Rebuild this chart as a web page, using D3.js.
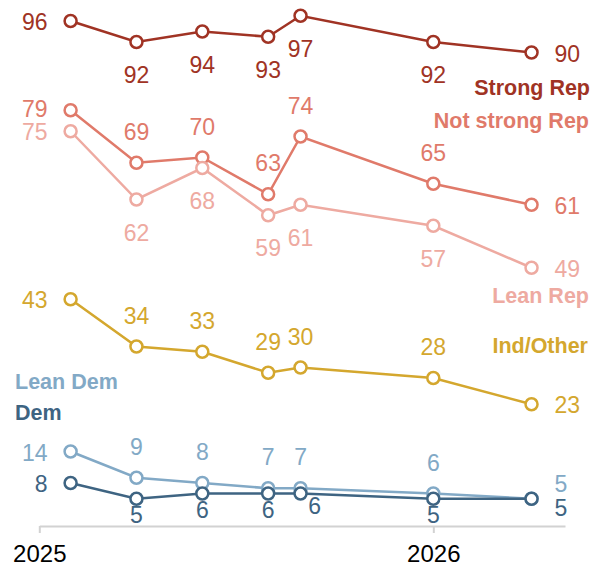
<html>
<head>
  <script src="https://d3js.org/d3.v7.min.js"></script>
  <style>
    body { margin: 0; background: #fff; }
    .num { font-family: "Liberation Sans", Arial, sans-serif; font-size: 23px; }
    .key { font-family: "Liberation Sans", Arial, sans-serif; font-size: 21.5px; font-weight: bold; }
    .x-axis text { font-family: "Liberation Sans", Arial, sans-serif; font-size: 24px; fill: #000; }
  </style>
</head>
<body>
  <div id="chart"></div>
  <script>
    // survey dates (approx. field midpoints)
    var dates = ['2025-01-30', '2025-04-01', '2025-06-01', '2025-08-01', '2025-08-31', '2026-01-01', '2026-04-02'];
    var yearTicks = ['2025-01-01', '2026-01-01'];

    var strongRep = [96, 92, 94, 93, 97, 92, 90];
    var notStrongRep = [79, 69, 70, 63, 74, 65, 61];
    var leanRep = [75, 62, 68, 59, 61, 57, 49];
    var indOther = [43, 34, 33, 29, 30, 28, 23];
    var leanDem = [14, 9, 8, 7, 7, 6, 5];
    var dem = [8, 5, 6, 6, 6, 5, 5];

    var parse = d3.timeParse('%Y-%m-%d');

    var width = 592, height = 569;

    var svg = d3.select('#chart').append('svg')
                .attr('width', width)
                .attr('height', height);

    var x = d3.scaleTime()
              .domain([parse('2025-01-01'), parse('2026-05-03')])
              .range([39.3, 565]);
    var y = d3.scaleLinear().domain([0, 100]).range([525, 0]);

    // label placement per point: L left, R right, A above, B below
    var series = [
      {name: 'Strong Rep', values: strongRep, color: '#a03324',
       pos: ['L', 'B', 'B', 'B', 'B', 'B', 'R'], key: {x: 590, y: 95, anchor: 'end'}},
      {name: 'Not strong Rep', values: notStrongRep, color: '#e07a6a',
       pos: ['LU', 'A', 'A', 'A', 'A', 'A', 'R'], key: {x: 589, y: 128, anchor: 'end'}},
      {name: 'Lean Rep', values: leanRep, color: '#eeaaa1',
       pos: ['L', 'B', 'B', 'B', 'B', 'B', 'R'], key: {x: 589, y: 303, anchor: 'end'}},
      {name: 'Ind/Other', values: indOther, color: '#d4a72e',
       pos: ['L', 'A', 'A', 'A', 'A', 'A', 'R'], key: {x: 588, y: 353, anchor: 'end'}},
      {name: 'Lean Dem', values: leanDem, color: '#82a9c6',
       pos: ['L', 'A', 'A', 'A', 'A', 'A', 'RU'], key: {x: 15, y: 389, anchor: 'start'}},
      {name: 'Dem', values: dem, color: '#3e6482',
       pos: ['L', 'BD', 'BD', 'BD', 'BR', 'BD', 'RD'], key: {x: 15, y: 420, anchor: 'start'}}
    ];

    // axis
    var x_axis = d3.axisBottom(x)
                   .tickValues(yearTicks.map(parse))
                   .tickFormat(d3.timeFormat('%Y'))
                   .tickSizeInner(7)
                   .tickSizeOuter(0)
                   .tickPadding(12);

    var gx = svg.append('g')
                .attr('class', 'x-axis')
                .attr('transform', 'translate(0,526)')
                .call(x_axis);
    gx.select('.domain').attr('stroke', '#d2d2d2').attr('stroke-width', 2);
    gx.selectAll('.tick line').attr('stroke', '#d2d2d2').attr('stroke-width', 2);

    var line_function = d3.line()
                          .x(function(d) { return x(d.date); })
                          .y(function(d) { return y(d.value); });

    var offsets = {
      L:  {dx: -23, dy: 9, anchor: 'end'},
      LU: {dx: -23, dy: 7, anchor: 'end'},
      R:  {dx: 23, dy: 9, anchor: 'start'},
      RU: {dx: 23, dy: -7, anchor: 'start'},
      RD: {dx: 23, dy: 17, anchor: 'start'},
      A:  {dx: 0, dy: -23, anchor: 'middle'},
      B:  {dx: 0, dy: 41, anchor: 'middle'},
      BD: {dx: 0, dy: 24, anchor: 'middle'},
      BR: {dx: 14, dy: 20, anchor: 'middle'}
    };

    series.forEach(function(s) {
      var pts = s.values.map(function(v, i) { return {date: parse(dates[i]), value: v, pos: s.pos[i]}; });
      var g = svg.append('g');

      g.append('path')
        .attr('d', line_function(pts))
        .attr('fill', 'none')
        .attr('stroke', s.color)
        .attr('stroke-width', 2.5);

      g.selectAll('circle')
        .data(pts)
        .enter()
        .append('circle')
          .attr('cx', function(d) { return x(d.date); })
          .attr('cy', function(d) { return y(d.value); })
          .attr('r', 6)
          .attr('fill', '#fff')
          .attr('stroke', s.color)
          .attr('stroke-width', 2.5);

      g.selectAll('text.num')
        .data(pts)
        .enter()
        .append('text')
          .attr('class', 'num')
          .attr('x', function(d) { return x(d.date) + offsets[d.pos].dx; })
          .attr('y', function(d) { return y(d.value) + offsets[d.pos].dy; })
          .attr('text-anchor', function(d) { return offsets[d.pos].anchor; })
          .attr('fill', s.color)
          .text(function(d) { return d.value; });

      svg.append('text')
        .attr('class', 'key')
        .attr('x', s.key.x)
        .attr('y', s.key.y)
        .attr('text-anchor', s.key.anchor)
        .attr('fill', s.color)
        .text(s.name);
    });
  </script>
</body>
</html>
